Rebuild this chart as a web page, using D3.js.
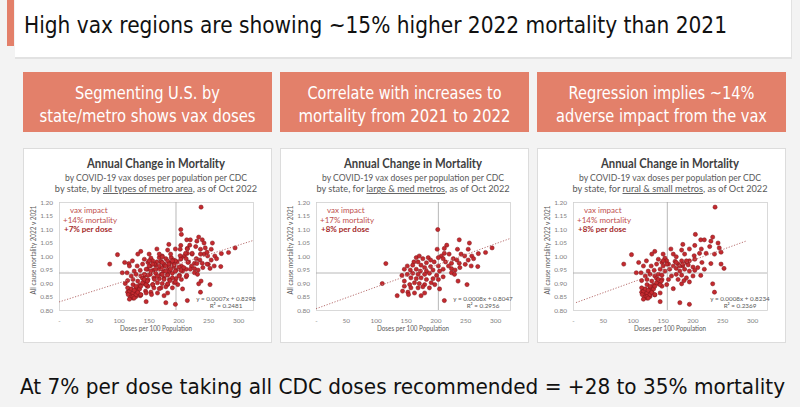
<!DOCTYPE html>
<html><head><meta charset="utf-8">
<script src="https://cdn.jsdelivr.net/npm/d3@7"></script>
<style>body{margin:0;background:#f3f3f3;overflow:hidden}svg{display:block}</style>
</head><body><svg id="c" width="800" height="407"></svg>
<script>
// ---------- DATA ----------
const slideTitle = "High vax regions are showing ~15% higher 2022 mortality than 2021";
const footerText = "At 7% per dose taking all CDC doses recommended = +28 to 35% mortality";
const headerLine1 = ["Segmenting U.S. by", "Correlate with increases to", "Regression implies ~14%"];
const headerLine2 = ["state/metro shows vax doses", "mortality from 2021 to 2022", "adverse impact from the vax"];
const chartTitle = "Annual Change in Mortality";
const subtitleLine1 = "by COVID-19 vax doses per population per CDC";
const subtitlePrefix = ["by state, by ", "by state, for ", "by state, for "];
const subtitleSegment = ["all types of metro area", "large & med metros", "rural & small metros"];
const subtitleSuffix = [", as of Oct 2022", ", as of Oct 2022", ", as of Oct 2022"];
const impactLabel = "vax impact";
const impactMortality = ["+14% mortality", "+17% mortality", "+14% mortality"];
const impactPerDose = ["+7% per dose", "+8% per dose", "+8% per dose"];
const equationText = ["y = 0.0007x + 0.8298", "y = 0.0008x + 0.8047", "y = 0.0008x + 0.8234"];
const rSquaredText = ["R\u00b2 = 0.2481", "R\u00b2 = 0.2956", "R\u00b2 = 0.2369"];
const trendSlope = [0.0007, 0.0008, 0.0008];
const trendIntercept = [0.8298, 0.8047, 0.8234];
const trendFrom = [0, 0, 5];
const trendTo = [325, 325, 290];
const refDoses = [196, 205, 158];
const refMortality = [0.937, 0.937, 0.937];
const xTicks = [0, 50, 100, 150, 200, 250, 300];
const yTicks = [0.80, 0.85, 0.90, 0.95, 1.00, 1.05, 1.10, 1.15, 1.20];
const xAxisTitle = "Doses per 100 Population";
const yAxisTitle = "All cause mortality 2022 v 2021";

// [doses per 100, mortality ratio]
const largeMedPoints = [
[204,1.098],[240,1.060],[257,1.048],[219,1.040],[237,1.025],[255,1.025],[215,1.028],[203,1.025],[295,1.030],[284,1.013],
[215,1.010],[223,1.007],[210,1.000],[243,1.007],[249,1.000],[261,1.000],[272,1.009],
[205,0.994],[213,0.990],[230,0.990],[236,0.985],[255,0.985],[264,0.990],
[168,0.994],[173,1.000],[179,0.990],[188,0.994],[164,0.978],[171,0.978],[185,0.975],[192,0.985],[198,0.978],
[117,0.972],
[217,0.978],[227,0.973],[240,0.973],[250,0.969],[260,0.963],[271,0.961],[222,0.963],
[153,0.963],[162,0.966],[176,0.966],[182,0.957],[192,0.961],[205,0.963],
[227,0.953],[233,0.948],[241,0.957],[213,0.951],
[148,0.951],[158,0.948],[168,0.951],[175,0.944],[185,0.944],[196,0.948],[207,0.944],
[144,0.928],[153,0.932],[162,0.936],[171,0.932],[182,0.932],[190,0.936],[202,0.928],[213,0.923],[227,0.938],[232,0.932],[238,0.907],[253,0.894],
[159,0.919],[168,0.916],[176,0.919],[185,0.913],[196,0.916],[205,0.913],
[148,0.907],[157,0.894],[165,0.901],[173,0.898],[182,0.894],[193,0.901],[199,0.894],
[111,0.898],
[148,0.888],[159,0.882],[171,0.882],[179,0.886],[190,0.882],
[145,0.870],[154,0.866],[155,0.857],[165,0.863],[182,0.863],[176,0.853],[136,0.853],[207,0.878],
[215,0.835]
];
const ruralSmallPoints = [
[238,1.181],
[205,1.080],[214,1.060],[220,1.060],[234,1.070],[231,1.055],
[184,1.043],[204,1.039],[229,1.035],[243,1.048],[245,1.030],
[164,1.026],[182,1.022],[195,1.026],[215,1.026],
[98,1.005],
[132,1.007],[137,1.017],[151,1.007],[168,1.007],[173,0.997],[187,1.007],[203,1.001],[212,1.010],[223,1.010],[237,1.007],[248,1.014],
[85,0.970],
[110,0.976],[123,0.982],[143,0.988],[154,0.992],[157,0.982],[149,0.976],[171,0.980],[182,0.982],[190,0.976],[195,0.982],[204,0.988],[216,0.976],[231,0.972],[248,0.970],[253,0.954],
[118,0.963],[131,0.963],[140,0.970],[151,0.963],[160,0.970],[168,0.963],[176,0.970],[184,0.963],[193,0.967],[201,0.959],[209,0.957],[220,0.951],
[106,0.938],[114,0.938],[126,0.944],[136,0.947],[146,0.951],[154,0.944],[162,0.951],[173,0.954],[179,0.944],[187,0.951],[195,0.944],[204,0.947],
[121,0.926],[129,0.932],[137,0.926],[143,0.932],[149,0.929],[165,0.926],[173,0.932],[182,0.929],[190,0.919],[201,0.926],[214,0.928],
[115,0.909],[124,0.913],[132,0.907],[140,0.917],[149,0.913],[160,0.913],[176,0.913],[186,0.909],[195,0.904],[182,0.897],
[124,0.894],[135,0.892],[143,0.897],[129,0.882],[118,0.875],[149,0.888],[157,0.894],[168,0.879],[234,0.897],
[115,0.866],[121,0.859],[126,0.866],[132,0.871],[137,0.856],[146,0.863],[124,0.844],[129,0.850],[237,0.866],
[146,0.831],[179,0.827],[195,0.821],
[115,0.882],[118,0.869],[121,0.878],[124,0.863],[126,0.873],[116,0.857],[120,0.847],[124,0.850],[129,0.857],[132,0.865],
[135,0.878],[137,0.888],[140,0.901],[143,0.913],[146,0.894],[126,0.844],[118,0.840],[137,0.857],[129,0.888],[148,0.907],
[151,0.982],[157,0.970],[173,0.976],[179,0.963],[184,0.970],[190,0.982]
];
const allPoints = largeMedPoints.concat(ruralSmallPoints);
const chartPoints = [allPoints, largeMedPoints, ruralSmallPoints];

// ---------- DRAWING ----------
const salmon = "#e3806a";
const narrow = "'Liberation Sans Narrow','DejaVu Sans Condensed','Roboto',sans-serif";
const body = "Lato,'Open Sans',sans-serif";
const svg = d3.select("#c");

svg.append("rect").attr("width", 800).attr("height", 407).attr("fill", "#f3f3f3");
// title band
svg.append("rect").attr("x", 15).attr("y", 0).attr("width", 777).attr("height", 59).attr("fill", "#e2e2e2");
svg.append("rect").attr("x", 15).attr("y", 0).attr("width", 776).attr("height", 57).attr("fill", "#ffffff");
svg.append("rect").attr("x", 7).attr("y", 0).attr("width", 7).attr("height", 46).attr("fill", salmon);
svg.append("text").attr("x", 24).attr("y", 33).attr("font-family", narrow).attr("font-stretch", "condensed")
  .attr("font-size", 23).attr("fill", "#111").attr("textLength", 703).attr("lengthAdjust", "spacingAndGlyphs")
  .text(slideTitle);

const cardX = [23, 280, 537];
const cardW = 249;
const l1Len = [145, 194, 186];
const l2Len = [216, 212, 211];

cardX.forEach((cx, i) => {
  // header box
  svg.append("rect").attr("x", cx).attr("y", 72).attr("width", cardW).attr("height", 60).attr("fill", salmon);
  const mid = cx + cardW / 2;
  svg.append("text").attr("x", mid - l1Len[i] / 2).attr("y", 99).attr("font-family", narrow)
    .attr("font-size", 17).attr("fill", "#fff").attr("textLength", l1Len[i]).attr("lengthAdjust", "spacingAndGlyphs")
    .text(headerLine1[i]);
  svg.append("text").attr("x", mid - l2Len[i] / 2).attr("y", 122).attr("font-family", narrow)
    .attr("font-size", 17).attr("fill", "#fff").attr("textLength", l2Len[i]).attr("lengthAdjust", "spacingAndGlyphs")
    .text(headerLine2[i]);

  // chart card
  svg.append("rect").attr("x", cx + 0.5).attr("y", 148.5).attr("width", cardW - 1).attr("height", 194)
    .attr("fill", "#fff").attr("stroke", "#dcdcdc");

  const left = cx + 36, width = 194, top = 202, height = 108;
  const x = d3.scaleLinear().domain([0, 325]).range([left, left + width]);
  const y = d3.scaleLinear().domain([0.80, 1.20]).range([top + height, top]);
  const pc = left + width / 2;

  const g = svg.append("g");
  g.append("text").attr("x", pc).attr("y", 168).attr("text-anchor", "middle").attr("font-family", body)
    .attr("font-weight", "bold").attr("font-size", 12.5).attr("fill", "#404040")
    .attr("textLength", 138).attr("lengthAdjust", "spacingAndGlyphs").text(chartTitle);
  g.append("text").attr("x", pc).attr("y", 181).attr("text-anchor", "middle").attr("font-family", body)
    .attr("font-size", 9.2).attr("fill", "#595959")
    .attr("textLength", 182).attr("lengthAdjust", "spacingAndGlyphs").text(subtitleLine1);
  const st = g.append("text").attr("x", pc).attr("y", 192).attr("text-anchor", "middle").attr("font-family", body)
    .attr("font-size", 9.2).attr("fill", "#595959");
  st.append("tspan").text(subtitlePrefix[i]);
  st.append("tspan").attr("text-decoration", "underline").text(subtitleSegment[i]);
  st.append("tspan").text(subtitleSuffix[i]);

  // plot border
  g.append("rect").attr("x", left + 0.5).attr("y", top + 0.5).attr("width", width).attr("height", height)
    .attr("fill", "none").attr("stroke", "#d0d0d0").attr("stroke-width", 0.8);

  // axes (labels only)
  const ya = g.append("g").attr("transform", `translate(${left - 3},0)`)
    .call(d3.axisLeft(y).tickValues(yTicks).tickSize(0).tickFormat(d3.format(".2f")));
  const xa = g.append("g").attr("transform", `translate(0,${top + height + 5})`)
    .call(d3.axisBottom(x).tickValues(xTicks).tickSize(0).tickFormat(d => d === 0 ? "-" : d));
  [ya, xa].forEach(a => {
    a.select(".domain").remove();
    a.selectAll("text").attr("font-family", body).attr("font-size", 6.5).attr("fill", "#7f7f7f");
  });

  g.append("text").attr("transform", `translate(${cx + 13},${top + height / 2 - 6}) rotate(-90)`)
    .attr("text-anchor", "middle").attr("font-family", body).attr("font-size", 7).attr("fill", "#595959")
    .attr("textLength", 89).attr("lengthAdjust", "spacingAndGlyphs").text(yAxisTitle);
  g.append("text").attr("x", pc).attr("y", 331).attr("text-anchor", "middle").attr("font-family", body)
    .attr("font-size", 7.5).attr("fill", "#595959")
    .attr("textLength", 72).attr("lengthAdjust", "spacingAndGlyphs").text(xAxisTitle);

  // reference lines
  g.append("line").attr("x1", x(refDoses[i])).attr("x2", x(refDoses[i])).attr("y1", top).attr("y2", top + height)
    .attr("stroke", "#a6a6a6").attr("stroke-width", 0.8);
  g.append("line").attr("x1", left).attr("x2", left + width).attr("y1", y(refMortality[i])).attr("y2", y(refMortality[i]))
    .attr("stroke", "#a6a6a6").attr("stroke-width", 0.8);

  // points
  g.append("g").selectAll("circle").data(chartPoints[i]).join("circle")
    .attr("cx", d => x(d[0])).attr("cy", d => y(d[1])).attr("r", 2.1)
    .attr("fill", "#c42a2f").attr("stroke", "#7d1518").attr("stroke-width", 0.5);

  // trend line
  const tr = [trendFrom[i], trendTo[i]].map(v => [v, trendSlope[i] * v + trendIntercept[i]]);
  g.append("path").attr("d", d3.line().x(d => x(d[0])).y(d => y(d[1]))(tr))
    .attr("stroke", "#b87070").attr("stroke-width", 1).attr("stroke-dasharray", "1.2,1.6").attr("fill", "none");

  // annotations
  g.append("text").attr("x", left + 11).attr("y", 213).attr("font-family", body).attr("font-size", 8)
    .attr("fill", "#c0504d").text(impactLabel);
  g.append("text").attr("x", left + 4).attr("y", 222.5).attr("font-family", body).attr("font-size", 8)
    .attr("fill", "#c0504d").text(impactMortality[i]);
  g.append("text").attr("x", left + 5).attr("y", 232).attr("font-family", body).attr("font-size", 8)
    .attr("font-weight", "bold").attr("fill", "#a52a2a").text(impactPerDose[i]);

  g.append("text").attr("x", left + width - 27).attr("y", 301).attr("text-anchor", "middle").attr("font-family", body)
    .attr("font-size", 6.3).attr("fill", "#595959").text(equationText[i]);
  g.append("text").attr("x", left + width - 27).attr("y", 308).attr("text-anchor", "middle").attr("font-family", body)
    .attr("font-size", 6.3).attr("fill", "#595959").text(rSquaredText[i]);
});

svg.append("text").attr("x", 20).attr("y", 394).attr("font-family", narrow).attr("font-stretch", "condensed")
  .attr("font-size", 22).attr("fill", "#111").attr("textLength", 765).attr("lengthAdjust", "spacingAndGlyphs")
  .text(footerText);
</script>
</body></html>
